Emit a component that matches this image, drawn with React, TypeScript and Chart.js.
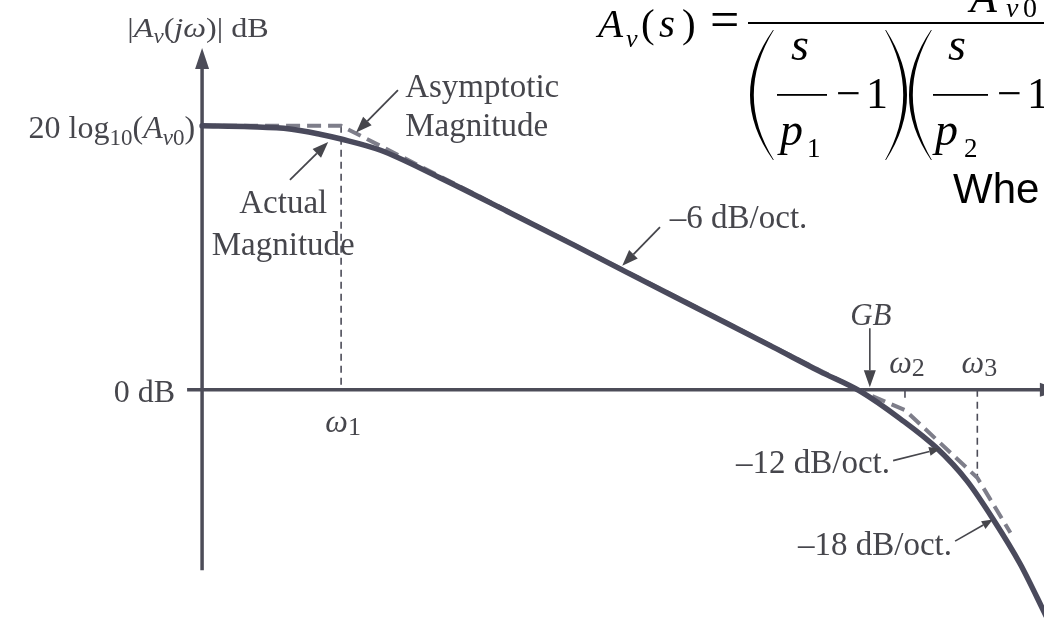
import React, { useEffect, useRef } from "react";
import { Chart, registerables } from "chart.js";

Chart.register(...registerables);

// Frequency is measured in octaves above the first pole (ω1); magnitude in dB.
const passbandDb = 60;
const omega1 = 0;
const gbOct = 10;
const omega2 = 10.91;
const omega3 = 12.31;

// Actual magnitude response |Av(jω)|
const actualOct = [-2.69, -1.76, -0.99, -0.41, 0, 0.75, 1.91, 3.21, 4.49, 5.53, 7.08, 8.36, 9.26, 10.04, 10.82, 11.53, 12.11, 12.61, 13.14, 13.64];
const actualDb = [60, 59.8, 59.3, 58.1, 57.0, 54.5, 48.2, 40.6, 33.0, 26.7, 17.4, 9.7, 4.2, -0.3, -6.6, -13.3, -20.7, -29.3, -39.6, -51.4];

// Straight-line (asymptotic) approximation: 0, -6, -12, -18 dB/oct.
const asymptoteOct = [-2.69, 0, 10, 10.91, 12.31, 12.95];
const asymptoteDb = [60, 60, 0, -4.6, -20.0, -32.5];

// Axis extents
const xRange = [-6.6, 13.6];
const yRange = [-53, 88.6];
const yAxisAt = -2.69;
const yAxisSpan = [-41, 77.7];
const xAxisSpan = [-2.98, 13.52];
const omega3Drop = -20;
const omega2Tick = -1.8;

type Seg = { t: string; it?: boolean; sub?: boolean };

// Tick labels
const yTickValues = [passbandDb, 0];
const yTickLabels: Seg[][] = [
  [{ t: "20 log" }, { t: "10", sub: true }, { t: "(" }, { t: "A", it: true }, { t: "v", it: true, sub: true }, { t: "0", sub: true }, { t: ")" }],
  [{ t: "0 dB" }],
];
const xTickValues = [omega1, omega2, omega3];
const xTickLabels = [["ω", "1"], ["ω", "2"], ["ω", "3"]];
const yAxisTitle: Seg[] = [
  { t: "|" }, { t: "A", it: true }, { t: "v", it: true, sub: true }, { t: "(" }, { t: "j", it: true }, { t: "ω", it: true }, { t: ")| dB" },
];

const INK = "#4c4c58";
const TEXT = "#46464c";
const CURVE = "#4a4a5c";
const DASH = "#7e7e8a";
const SERIF = '"Liberation Serif", "Times New Roman", serif';
const SANS = '"Liberation Sans", Arial, sans-serif';
const font = (px: number, italic = false, fam = SERIF) => `${italic ? "italic " : ""}${px}px ${fam}`;

function drawRich(ctx: CanvasRenderingContext2D, segs: Seg[], x: number, y: number, size: number, align: "left" | "right" | "center", sx = 1) {
  const subSize = Math.round(size * 0.72);
  const widths = segs.map((s) => {
    ctx.font = font(s.sub ? subSize : size, s.it);
    return ctx.measureText(s.t).width;
  });
  const total = widths.reduce((a, b) => a + b, 0) * sx;
  const x0 = align === "left" ? x : align === "right" ? x - total : x - total / 2;
  ctx.save();
  ctx.translate(x0, y);
  ctx.scale(sx, 1);
  let cx = 0;
  segs.forEach((s, i) => {
    ctx.font = font(s.sub ? subSize : size, s.it);
    ctx.fillText(s.t, cx, s.sub ? size * 0.22 : 0);
    cx += widths[i];
  });
  ctx.restore();
}

function drawText(ctx: CanvasRenderingContext2D, t: string, x: number, y: number, f: string, align: CanvasTextAlign = "left") {
  ctx.font = f;
  ctx.textAlign = align;
  ctx.fillText(t, x, y);
  ctx.textAlign = "left";
}

function arrow(ctx: CanvasRenderingContext2D, x1: number, y1: number, x2: number, y2: number, head = 14, halfW = 5, lw = 1.6) {
  const a = Math.atan2(y2 - y1, x2 - x1);
  const bx = x2 - head * Math.cos(a);
  const by = y2 - head * Math.sin(a);
  ctx.lineWidth = lw;
  ctx.beginPath();
  ctx.moveTo(x1, y1);
  ctx.lineTo(bx, by);
  ctx.stroke();
  ctx.beginPath();
  ctx.moveTo(x2, y2);
  ctx.lineTo(bx + halfW * Math.sin(a), by - halfW * Math.cos(a));
  ctx.lineTo(bx - halfW * Math.sin(a), by + halfW * Math.cos(a));
  ctx.closePath();
  ctx.fill();
}

// Tall thin bracket drawn as a crescent; dir = -1 for "(", +1 for ")"
function bracket(ctx: CanvasRenderingContext2D, left: number, top: number, right: number, bottom: number, dir: number, thick = 3.4) {
  const mid = (top + bottom) / 2;
  const endX = dir < 0 ? right : left;
  const apex = dir < 0 ? left : right;
  const c = 2 * apex - endX;
  ctx.beginPath();
  ctx.moveTo(endX, top);
  ctx.quadraticCurveTo(c, mid, endX, bottom);
  ctx.lineTo(endX - dir * 0.8, bottom);
  ctx.quadraticCurveTo(c - dir * 2 * thick, mid, endX - dir * 0.8, top);
  ctx.closePath();
  ctx.fill();
}

function drawFormula(ctx: CanvasRenderingContext2D) {
  ctx.fillStyle = "#000";
  // Av(s) =
  drawText(ctx, "A", 598, 37, font(41, true));
  drawText(ctx, "v", 626, 47, font(26, true));
  drawText(ctx, "(", 641, 37, font(41));
  drawText(ctx, "s", 659, 37, font(41, true));
  drawText(ctx, ")", 682, 37, font(41));
  drawText(ctx, "=", 710, 37, font(52));
  // main fraction bar and numerator Av0
  ctx.fillRect(748, 22, 300, 2);
  drawText(ctx, "A", 970, 12, font(44, true));
  drawText(ctx, "v", 1006, 17, font(28, true));
  drawText(ctx, "0", 1023, 17, font(28));
  // (s/p1 - 1)
  bracket(ctx, 750, 30, 773, 160, -1);
  drawText(ctx, "s", 791, 60, font(46, true));
  ctx.fillRect(777, 94, 50, 1.8);
  drawText(ctx, "p", 780, 145, font(46, true));
  drawText(ctx, "1", 807, 157, font(27));
  drawText(ctx, "\u2212", 836, 108, font(44));
  drawText(ctx, "1", 866, 108, font(44));
  bracket(ctx, 886, 30, 907, 160, 1);
  // (s/p2 - 1
  bracket(ctx, 909, 30, 931, 160, -1);
  drawText(ctx, "s", 948, 60, font(46, true));
  ctx.fillRect(933, 94, 55, 1.8);
  drawText(ctx, "p", 935, 145, font(46, true));
  drawText(ctx, "2", 964, 157, font(27));
  drawText(ctx, "\u2212", 997, 108, font(44));
  drawText(ctx, "1", 1027, 108, font(44));
  drawText(ctx, "Whe", 953, 203, font(42, false, SANS));
}

const bodePlugin = {
  id: "bodeDecor",
  beforeDatasetsDraw(chart: any) {
    const ctx: CanvasRenderingContext2D = chart.ctx;
    const X = (v: number) => chart.scales.x.getPixelForValue(v);
    const Y = (v: number) => chart.scales.y.getPixelForValue(v);
    ctx.save();
    ctx.strokeStyle = INK;
    ctx.fillStyle = INK;
    ctx.lineWidth = 3.5;
    // vertical axis with arrow
    const ax = X(yAxisAt);
    const top = Y(yAxisSpan[1]);
    ctx.beginPath();
    ctx.moveTo(ax, Y(yAxisSpan[0]));
    ctx.lineTo(ax, top + 16);
    ctx.stroke();
    ctx.beginPath();
    ctx.moveTo(ax, top);
    ctx.lineTo(ax - 7, top + 21);
    ctx.lineTo(ax + 7, top + 21);
    ctx.closePath();
    ctx.fill();
    // horizontal axis with arrow
    const y0 = Y(0);
    const right = X(xAxisSpan[1]);
    ctx.beginPath();
    ctx.moveTo(X(xAxisSpan[0]), y0);
    ctx.lineTo(right + 4, y0);
    ctx.stroke();
    ctx.beginPath();
    ctx.moveTo(right + 21, y0);
    ctx.lineTo(right, y0 - 7);
    ctx.lineTo(right, y0 + 7);
    ctx.closePath();
    ctx.fill();
    ctx.restore();
  },
  afterDatasetsDraw(chart: any) {
    const ctx: CanvasRenderingContext2D = chart.ctx;
    const X = (v: number) => chart.scales.x.getPixelForValue(v);
    const Y = (v: number) => chart.scales.y.getPixelForValue(v);
    ctx.save();
    ctx.textBaseline = "alphabetic";
    ctx.fillStyle = TEXT;
    ctx.strokeStyle = TEXT;

    // axis title
    drawRich(ctx, yAxisTitle, X(yAxisAt) - 4, Y(yAxisSpan[1]) - 11, 28, "center", 1.15);

    // magnitude ticks
    yTickValues.forEach((v, i) => {
      const rightEdge = v === 0 ? X(xAxisSpan[0]) - 12 : X(yAxisAt) - 7;
      drawRich(ctx, yTickLabels[i], rightEdge, Y(v) + 12, 32, "right");
    });

    // frequency ticks
    xTickValues.forEach((v, i) => {
      const below = v === omega1;
      const cx = X(v) + 2;
      const by = below ? Y(0) + 42 : Y(0) - 17;
      ctx.font = font(32, true);
      const w1 = ctx.measureText(xTickLabels[i][0]).width;
      ctx.font = font(26);
      const w2 = ctx.measureText(xTickLabels[i][1]).width;
      const x0 = cx - (w1 + w2) / 2;
      drawText(ctx, xTickLabels[i][0], x0, by, font(32, true));
      drawText(ctx, xTickLabels[i][1], x0 + w1, by + 3, font(26));
    });

    // GB marker
    drawText(ctx, "GB", X(gbOct + 0.25), Y(14.7), font(31, true), "center");
    arrow(ctx, X(gbOct + 0.23), Y(14.0), X(gbOct + 0.23), Y(0.6), 17, 6, 1.6);

    // annotations
    const f33 = font(33);
    drawText(ctx, "Asymptotic", X(1.24), Y(66.5), f33);
    drawText(ctx, "Magnitude", X(1.24), Y(57.7), f33);
    arrow(ctx, X(1.1), Y(68.1), X(0.29), Y(58.5), 16, 6, 1.8);

    drawText(ctx, "Actual", X(-1.12), Y(40.2), f33, "center");
    drawText(ctx, "Magnitude", X(-1.12), Y(30.6), f33, "center");
    arrow(ctx, X(-0.99), Y(47.7), X(-0.25), Y(56.3), 16, 6, 1.8);

    drawText(ctx, "\u20136 dB/oct.", X(6.36), Y(36.8), f33);
    arrow(ctx, X(6.17), Y(37.0), X(5.44), Y(28.2), 16, 6, 1.8);

    drawText(ctx, "\u201312 dB/oct.", X(10.62), Y(-18.9), f33, "right");
    arrow(ctx, X(10.68), Y(-16.1), X(11.59), Y(-13.4), 11, 4.5, 1.6);

    drawText(ctx, "\u201318 dB/oct.", X(11.82), Y(-37.5), f33, "right");
    arrow(ctx, X(11.88), Y(-34.4), X(12.61), Y(-29.5), 11, 4.5, 1.6);

    drawFormula(ctx);
    ctx.restore();
  },
};

const pts = (xs: number[], ys: number[]) => xs.map((x, i) => ({ x, y: ys[i] }));

export default function App() {
  const ref = useRef<HTMLCanvasElement>(null);
  useEffect(() => {
    if (!ref.current) return;
    const chart = new Chart(ref.current, {
      type: "line",
      data: {
        datasets: [
          {
            label: "Actual Magnitude",
            data: pts(actualOct, actualDb),
            borderColor: CURVE,
            borderWidth: 5.5,
            pointRadius: 0,
            cubicInterpolationMode: "monotone",
            borderCapStyle: "round",
          },
          {
            label: "Asymptotic Magnitude",
            data: pts(asymptoteOct, asymptoteDb),
            borderColor: DASH,
            borderWidth: 4,
            borderDash: [14, 7],
            pointRadius: 0,
            tension: 0,
          },
          {
            label: "ω1",
            data: [{ x: omega1, y: passbandDb }, { x: omega1, y: 0 }],
            borderColor: INK,
            borderWidth: 1.6,
            borderDash: [7, 5],
            pointRadius: 0,
          },
          {
            label: "ω3",
            data: [{ x: omega3, y: 0 }, { x: omega3, y: omega3Drop }],
            borderColor: INK,
            borderWidth: 1.6,
            borderDash: [7, 5],
            pointRadius: 0,
          },
          {
            label: "ω2",
            data: [{ x: omega2, y: 0 }, { x: omega2, y: omega2Tick }],
            borderColor: INK,
            borderWidth: 1.6,
            pointRadius: 0,
          },
        ],
      } as any,
      options: {
        animation: false,
        responsive: false,
        layout: { padding: 0 },
        parsing: false,
        scales: {
          x: { type: "linear", min: xRange[0], max: xRange[1], display: false },
          y: { type: "linear", min: yRange[0], max: yRange[1], display: false },
        },
        plugins: { legend: { display: false }, tooltip: { enabled: false } },
      } as any,
      plugins: [bodePlugin],
    });
    return () => chart.destroy();
  }, []);
  return (
    <div style={{ position: "fixed", left: 0, top: 0, width: 1044, height: 623, background: "#fff" }}>
      <canvas ref={ref} width={1044} height={623} style={{ display: "block" }} />
    </div>
  );
}
